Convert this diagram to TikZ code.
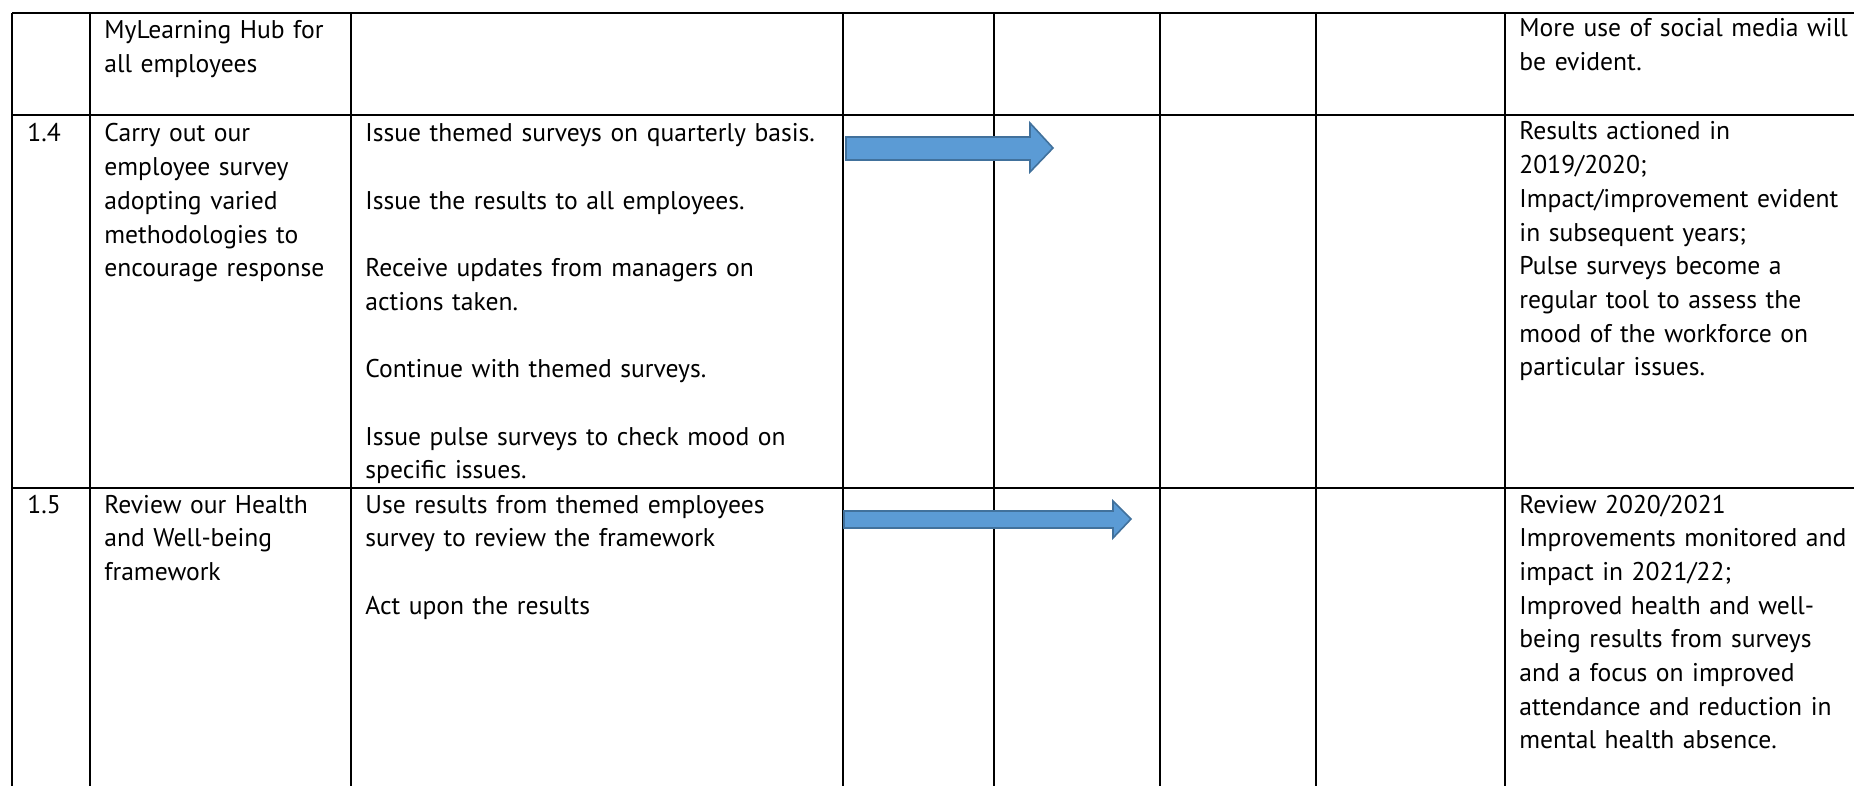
\documentclass[tikz,border=0pt]{standalone}
\usepackage{fontspec}
\setmainfont{PT Sans}
\definecolor{arrowfill}{HTML}{5B9BD5}
\definecolor{arrowline}{HTML}{41719C}
\tikzset{
  cell/.style={anchor=base west, inner sep=0pt, text width=230pt, align=left,
    font=\fontsize{12.8}{16.85}\selectfont},
  grid/.style={line width=1pt},
  bararrow/.style={fill=arrowfill, draw=arrowline, line width=0.8pt, line join=miter},
}
\newcommand{\gap}{\\[16.85pt]}
\begin{document}
\begin{tikzpicture}[x=0.5pt, y=-0.5pt]
  \useasboundingbox (0,0) rectangle (1854,786);
  % table grid
  \foreach \x in {12,90,351,843,994,1160,1316,1505}
    \draw[grid] (\x,13) -- (\x,786);
  \foreach \y in {13,115,488}
    \draw[grid] (12,\y) -- (1854,\y);
  % previous row
  \node[cell] (hub) at (104,39) {MyLearning Hub for\\all employees};
  \node[cell] (social) at (1519,37) {More use of social media will\\be evident.};
  % row 1.4
  \node[cell] (num4) at (27,142) {1.4};
  \node[cell] (task4) at (104,142) {Carry out our\\employee survey\\adopting varied\\methodologies to\\encourage response};
  \node[cell] (steps4) at (365,142) {Issue themed surveys on quarterly basis.\gap
    Issue the results to all employees.\gap
    Receive updates from managers on\\actions taken.\gap
    Continue with themed surveys.\gap
    Issue pulse surveys to check mood on\\specific issues.};
  \node[cell] (out4) at (1519,140) {Results actioned in\\2019/2020;\\Impact/improvement evident\\in subsequent years;\\Pulse surveys become a\\regular tool to assess the\\mood of the workforce on\\particular issues.};
  \filldraw[bararrow] (846,137) -- (1030,137) -- (1030,123) -- (1053,148) -- (1030,172) -- (1030,160) -- (846,160) -- cycle;
  % row 1.5
  \node[cell] (num5) at (27,513) {1.5};
  \node[cell] (task5) at (104,513) {Review our Health\\and Well-being\\framework};
  \node[cell] (steps5) at (365,513) {Use results from themed employees\\survey to review the framework\gap
    Act upon the results};
  \node[cell] (out5) at (1519,513) {Review 2020/2021\\Improvements monitored and\\impact in 2021/22;\\Improved health and well-\\being results from surveys\\and a focus on improved\\attendance and reduction in\\mental health absence.};
  \filldraw[bararrow] (844,511) -- (1113,511) -- (1113,501) -- (1131,519) -- (1113,538) -- (1113,528) -- (844,528) -- cycle;
\end{tikzpicture}
\end{document}
